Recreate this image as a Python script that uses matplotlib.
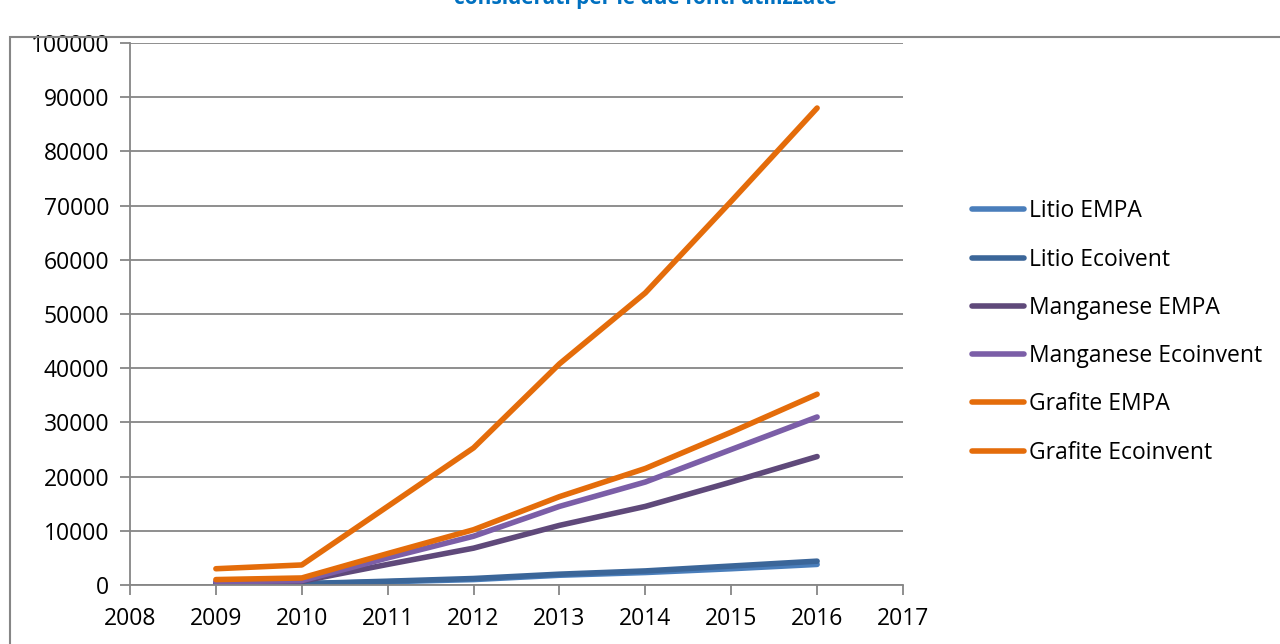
import matplotlib.pyplot as plt
from matplotlib.patches import Rectangle

plt.rcParams['font.family'] = ['Open Sans', 'DejaVu Sans']

# values
years = [2009, 2010, 2011, 2012, 2013, 2014, 2015, 2016]
litio_empa = [100, 200, 600, 1000, 1800, 2300, 3000, 3800]
litio_ecoinvent = [150, 250, 700, 1200, 2000, 2600, 3500, 4400]
manganese_empa = [500, 700, 3800, 6800, 11000, 14500, 19000, 23700]
manganese_ecoinvent = [600, 800, 5000, 9000, 14500, 19000, 25000, 31000]
grafite_empa = [1000, 1300, 5800, 10200, 16300, 21500, 28200, 35200]
grafite_ecoinvent = [3000, 3700, 14500, 25300, 40800, 53900, 70800, 88000]

labels = ['Litio EMPA', 'Litio Ecoivent', 'Manganese EMPA',
          'Manganese Ecoinvent', 'Grafite EMPA', 'Grafite Ecoinvent']
colors = ['#4A7EBB', '#3B6699', '#5F497A', '#7B5EA7', '#E46C0A', '#E46C0A']
series = [litio_empa, litio_ecoinvent, manganese_empa,
          manganese_ecoinvent, grafite_empa, grafite_ecoinvent]

fig = plt.figure(figsize=(12.8, 6.44), dpi=100)
ax = fig.add_axes([130 / 1280, 1 - 585 / 644, (903 - 130) / 1280, (585 - 43) / 644])

for vals, lab, col in zip(series, labels, colors):
    ax.plot(years, vals, color=col, lw=4.0, label=lab, solid_capstyle='round',
            solid_joinstyle='round')

ax.set_xlim(2008, 2017)
ax.set_ylim(0, 100000)
ax.set_xticks(range(2008, 2018))
ax.set_yticks(range(0, 100001, 10000))
ax.grid(axis='y', color='#868686', lw=1.3)
ax.set_axisbelow(True)
for s in ['top', 'right']:
    ax.spines[s].set_visible(False)
for s in ['left', 'bottom']:
    ax.spines[s].set_color('#868686')
    ax.spines[s].set_linewidth(1.3)
ax.tick_params(axis='both', labelsize=16.5, color='#868686', width=1.3, length=7)
ax.tick_params(axis='x', direction='out', pad=9)
ax.tick_params(axis='y', direction='out', pad=8)

leg = ax.legend(loc='center left', bbox_to_anchor=(961 / 1280, 1 - 332 / 644),
                bbox_transform=fig.transFigure, frameon=False, fontsize=16.5,
                handlelength=2.25, handletextpad=0.2, labelspacing=1.06,
                borderpad=0)

# outer chart frame
fig.patches.append(Rectangle((10 / 1280, -0.01), 1.0, 1 - 37 / 644 + 0.01,
                             transform=fig.transFigure, fill=False,
                             edgecolor='#868686', lw=1.5))

fig.text(0.504, 1 - 4 / 644, 'considerati per le due fonti utilizzate',
         ha='center', va='baseline', color='#0070C0', fontsize=15,
         fontweight='bold')

fig.savefig('out.png', dpi=100)
